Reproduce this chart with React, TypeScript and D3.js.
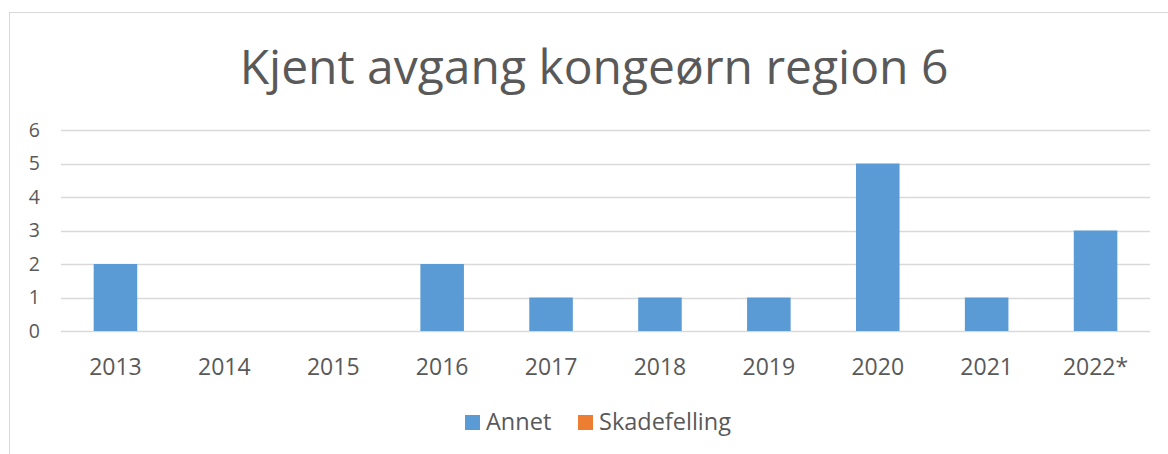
import React, { useRef, useEffect } from 'react';
import * as d3 from 'd3';

const years = ['2013', '2014', '2015', '2016', '2017', '2018', '2019', '2020', '2021', '2022*'];
const annet = [2, 0, 0, 2, 1, 1, 1, 5, 1, 3];
const skadefelling = [0, 0, 0, 0, 0, 0, 0, 0, 0, 0];
const seriesNames = ['Annet', 'Skadefelling'];
const seriesColors = ['#5B9BD5', '#ED7D31'];
const yTicks = [0, 1, 2, 3, 4, 5, 6];

const W = 1168;
const H = 454;
const font = '"Open Sans", "Noto Sans", sans-serif';
const textColor = '#595959';

const App = () => {
    const svgRef = useRef<SVGSVGElement>(null);

    useEffect(() => {
        const svg = d3.select(svgRef.current);
        svg.selectAll('*').remove();

        const margin = { top: 130, right: 18, bottom: 123, left: 61 };

        // chart frame (runs off the right and bottom edges)
        svg.append('rect')
            .attr('x', 9.5).attr('y', 12.5)
            .attr('width', W + 50).attr('height', H + 50)
            .attr('fill', '#fff').attr('stroke', '#D9D9D9');

        svg.append('text')
            .attr('x', 594).attr('y', 84)
            .attr('text-anchor', 'middle')
            .attr('font-family', font).attr('font-size', 48)
            .attr('fill', textColor)
            .text('Kjent avgang kongeørn region 6');

        const x = d3.scaleBand()
            .domain(years)
            .range([margin.left, W - margin.right])
            .paddingInner(0.6)
            .paddingOuter(0.3);
        const y = d3.scaleLinear().domain([0, 6]).range([H - margin.bottom, margin.top]);

        const table = years.map((yr, i) => ({ year: yr, Annet: annet[i], Skadefelling: skadefelling[i] }));
        const stacked = d3.stack().keys(seriesNames)(table as any);

        // gridlines
        svg.append('g').selectAll('line').data(yTicks).enter().append('line')
            .attr('x1', margin.left).attr('x2', W - margin.right)
            .attr('y1', d => Math.round(y(d)) + 0.5).attr('y2', d => Math.round(y(d)) + 0.5)
            .attr('stroke', '#D9D9D9').attr('stroke-width', 1.5);

        // y labels
        svg.append('g').selectAll('text').data(yTicks).enter().append('text')
            .attr('x', 40).attr('y', d => y(d)).attr('dy', '0.35em')
            .attr('text-anchor', 'end')
            .attr('font-family', font).attr('font-size', 19.5)
            .attr('fill', textColor)
            .text(d => d);

        // bars
        stacked.forEach((s, si) => {
            svg.append('g').attr('fill', seriesColors[si]).selectAll('rect')
                .data(s).enter().append('rect')
                .attr('x', d => x((d.data as any).year)!)
                .attr('width', x.bandwidth())
                .attr('y', d => y(d[1]))
                .attr('height', d => y(d[0]) - y(d[1]));
        });

        // x labels
        svg.append('g').selectAll('text').data(years).enter().append('text')
            .attr('x', d => x(d)! + x.bandwidth() / 2).attr('y', 375)
            .attr('text-anchor', 'middle')
            .attr('font-family', font).attr('font-size', 23)
            .attr('fill', textColor)
            .text(d => d);

        // legend
        const legendX = [465, 578];
        const legend = svg.append('g').selectAll('g').data(seriesNames).enter().append('g')
            .attr('transform', (d, i) => `translate(${legendX[i]},415)`);
        legend.append('rect')
            .attr('width', 15).attr('height', 15)
            .attr('fill', (d, i) => seriesColors[i]);
        legend.append('text')
            .attr('x', 21).attr('y', 15)
            .attr('font-family', font).attr('font-size', 23.5)
            .attr('fill', textColor)
            .text(d => d);
    }, []);

    return (
        <svg ref={svgRef} width={W} height={H}
            style={{ position: 'absolute', left: 0, top: 0, background: '#fff' }}></svg>
    );
};

export default App;
